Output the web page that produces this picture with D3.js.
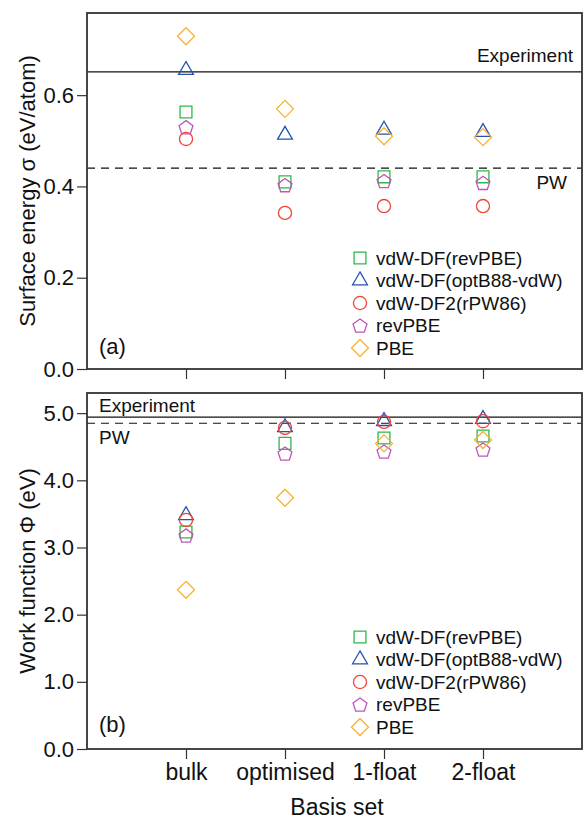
<!DOCTYPE html>
<html>
<head>
<meta charset="utf-8">
<script src="https://cdn.jsdelivr.net/npm/d3@7"></script>
<style>
body { margin: 0; background: #fff; }
text { font-family: "Liberation Sans", Arial, sans-serif; fill: #111; }
</style>
</head>
<body>
<script>
const width = 583;
const height = 821;

// data
const categories = ['bulk', 'optimised', '1-float', '2-float'];
const seriesNames = ['vdW-DF(revPBE)', 'vdW-DF(optB88-vdW)', 'vdW-DF2(rPW86)', 'revPBE', 'PBE'];
const seriesColors = ['#2db84a', '#2552b0', '#f04535', '#c055b5', '#f8b232'];
const seriesShapes = ['square', 'triangle', 'circle', 'pentagon', 'diamond'];

// surface energy (eV/atom)
const sigmaRevPBEdf = [0.563, 0.410, 0.421, 0.421];
const sigmaOptB88 = [0.655, 0.513, 0.524, 0.519];
const sigmaDF2 = [0.504, 0.342, 0.357, 0.357];
const sigmaRevPBE = [0.530, 0.403, 0.412, 0.408];
const sigmaPBE = [0.729, 0.570, 0.510, 0.508];
const sigmaExperiment = 0.651;
const sigmaPW = 0.440;
const sigmaTicks = [0.0, 0.2, 0.4, 0.6];

// work function (eV)
const phiRevPBEdf = [3.23, 4.55, 4.63, 4.66];
const phiOptB88 = [3.48, 4.79, 4.88, 4.91];
const phiDF2 = [3.41, 4.78, 4.87, 4.88];
const phiRevPBE = [3.18, 4.40, 4.43, 4.46];
const phiPBE = [2.37, 3.74, 4.55, 4.60];
const phiExperiment = 4.94;
const phiPW = 4.85;
const phiTicks = [0.0, 1.0, 2.0, 3.0, 4.0, 5.0];

const svg = d3.select('body').append('svg').attr('width', width).attr('height', height);

const left = 87, right = 582;
const x = d3.scaleLinear().domain([0, 5]).range([left, right]);

function shapePath(shape) {
    if (shape === 'pentagon') {
        const r = 7.3;
        const pts = d3.range(5).map(k => {
            const a = -Math.PI / 2 + k * 2 * Math.PI / 5;
            return [r * Math.cos(a), r * Math.sin(a) + 0.8];
        });
        return 'M' + pts.join('L') + 'Z';
    }
    if (shape === 'diamond') {
        const r = 8.5;
        return `M0,${-r}L${r},0L0,${r}L${-r},0Z`;
    }
    const sym = {
        square: d3.symbol(d3.symbolSquare, 140),
        triangle: d3.symbol(d3.symbolTriangle, 95),
        circle: d3.symbol(d3.symbolCircle, 135)
    };
    return sym[shape]();
}

function panel(cfg) {
    const y = d3.scaleLinear().domain(cfg.domain).range([cfg.bottom, cfg.top]);
    const g = svg.append('g');

    // reference lines
    g.append('line')
        .attr('x1', left).attr('x2', right)
        .attr('y1', y(cfg.experiment)).attr('y2', y(cfg.experiment))
        .attr('stroke', '#111').attr('stroke-width', 1.2);
    g.append('line')
        .attr('x1', left).attr('x2', right)
        .attr('y1', y(cfg.pw)).attr('y2', y(cfg.pw))
        .attr('stroke', '#111').attr('stroke-width', 1.2)
        .attr('stroke-dasharray', '8,6');

    // points
    cfg.series.forEach((vals, s) => {
        g.selectAll('.pt' + s)
            .data(vals)
            .enter()
            .append('path')
            .attr('transform', (d, i) => `translate(${x(i + 1)},${y(d)})`)
            .attr('d', shapePath(seriesShapes[s]))
            .attr('fill', 'none')
            .attr('stroke', seriesColors[s])
            .attr('stroke-width', 1.3);
    });

    // frame
    g.append('rect')
        .attr('x', left).attr('y', cfg.top)
        .attr('width', right - left).attr('height', cfg.bottom - cfg.top)
        .attr('fill', 'none').attr('stroke', '#333').attr('stroke-width', 1.8);

    // y axis
    const yAxis = d3.axisLeft(y).tickValues(cfg.ticks).tickFormat(d3.format('.1f'))
        .tickSize(10).tickPadding(3);
    const ya = g.append('g').attr('transform', `translate(${left},0)`).call(yAxis);
    ya.select('.domain').remove();
    ya.selectAll('.tick line').attr('stroke', '#333').attr('stroke-width', 1.2);
    ya.selectAll('.tick text').style('font-size', '22px').attr('fill', '#111');

    // x axis ticks
    const xAxis = d3.axisBottom(x).tickValues([1, 2, 3, 4]).tickSize(10)
        .tickFormat((d) => cfg.showLabels ? categories[d - 1] : '').tickPadding(5);
    const xa = g.append('g').attr('transform', `translate(0,${cfg.bottom})`).call(xAxis);
    xa.select('.domain').remove();
    xa.selectAll('.tick line').attr('stroke', '#333').attr('stroke-width', 1.2);
    xa.selectAll('.tick text').style('font-size', '23px').attr('fill', '#111');

    // y title
    g.append('text')
        .attr('transform', `translate(27,${(cfg.top + cfg.bottom) / 2}) rotate(-90)`)
        .attr('text-anchor', 'middle')
        .attr('dy', '0.35em')
        .style('font-size', '22px')
        .text(cfg.title);

    // line labels
    cfg.labels.forEach(l => {
        g.append('text')
            .attr('x', l.x).attr('y', l.y)
            .attr('text-anchor', l.anchor)
            .attr('dy', '0.35em')
            .style('font-size', '19px')
            .text(l.text);
    });

    // panel letter
    g.append('text')
        .attr('x', 99).attr('y', cfg.letterY)
        .attr('dy', '0.35em')
        .style('font-size', '22px')
        .text(cfg.letter);

    // legend
    const lg = g.append('g');
    seriesNames.forEach((name, s) => {
        const yy = cfg.legendY + s * 22.5;
        lg.append('path')
            .attr('transform', `translate(360,${yy})`)
            .attr('d', shapePath(seriesShapes[s]))
            .attr('fill', 'none')
            .attr('stroke', seriesColors[s])
            .attr('stroke-width', 1.3);
        lg.append('text')
            .attr('x', 376).attr('y', yy)
            .attr('dy', '0.35em')
            .style('font-size', '19px')
            .text(name);
    });
}

panel({
    top: 13, bottom: 369, domain: [0, 0.78],
    ticks: sigmaTicks,
    series: [sigmaRevPBEdf, sigmaOptB88, sigmaDF2, sigmaRevPBE, sigmaPBE],
    experiment: sigmaExperiment, pw: sigmaPW,
    title: 'Surface energy σ (eV/atom)',
    labels: [
        { text: 'Experiment', x: 573, y: 55, anchor: 'end' },
        { text: 'PW', x: 567, y: 182, anchor: 'end' }
    ],
    letter: '(a)', letterY: 346,
    legendY: 258,
    showLabels: false
});

panel({
    top: 393, bottom: 749, domain: [0, 5.3],
    ticks: phiTicks,
    series: [phiRevPBEdf, phiOptB88, phiDF2, phiRevPBE, phiPBE],
    experiment: phiExperiment, pw: phiPW,
    title: 'Work function Φ (eV)',
    labels: [
        { text: 'Experiment', x: 99, y: 405, anchor: 'start' },
        { text: 'PW', x: 99, y: 437, anchor: 'start' }
    ],
    letter: '(b)', letterY: 724,
    legendY: 637,
    showLabels: true
});

svg.append('text')
    .attr('x', 337).attr('y', 807)
    .attr('text-anchor', 'middle')
    .attr('dy', '0.35em')
    .style('font-size', '23px')
    .text('Basis set');
</script>
</body>
</html>
